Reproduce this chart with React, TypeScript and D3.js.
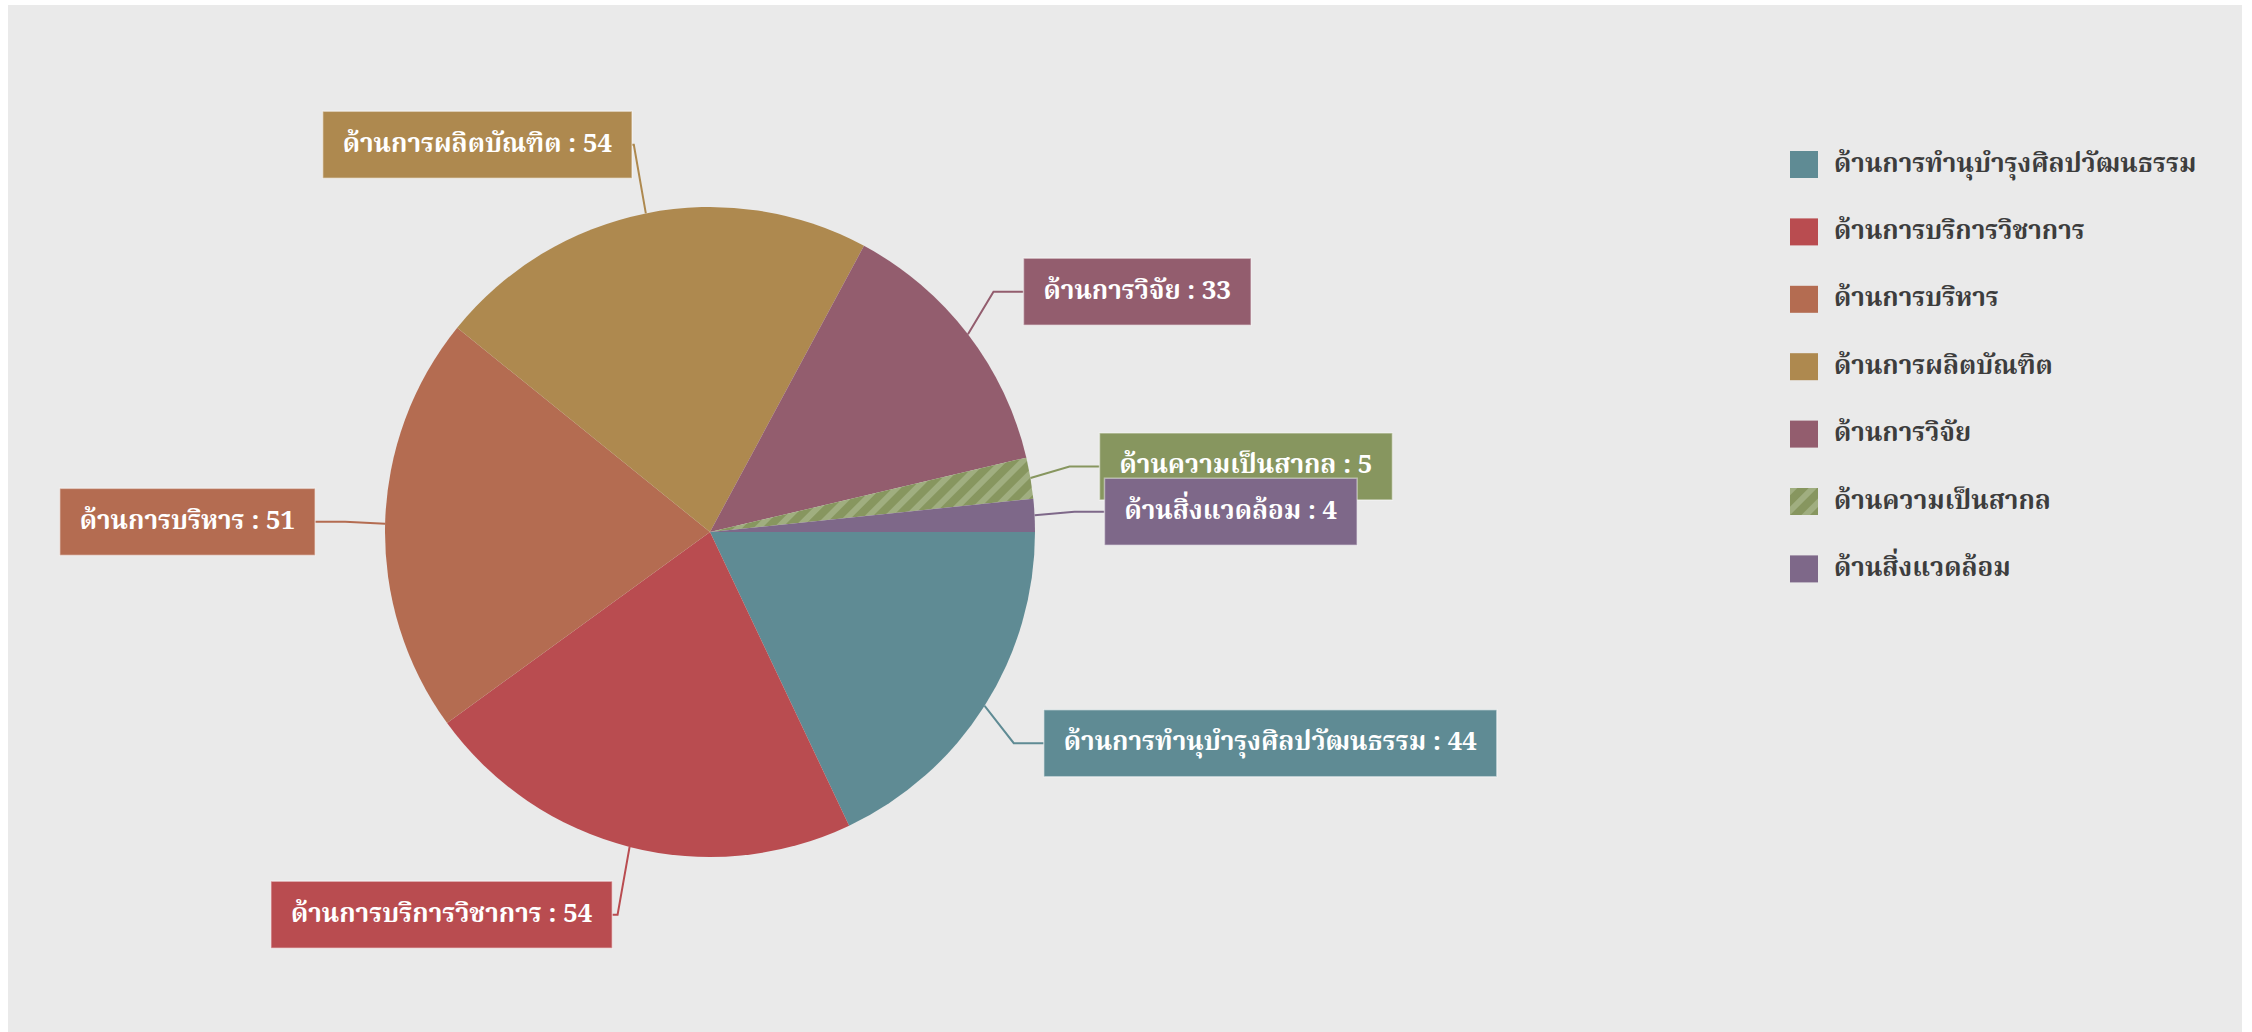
import React, { useEffect, useRef } from "react";
import * as d3 from "d3";

const categories = [
  "ด้านการทำนุบำรุงศิลปวัฒนธรรม",
  "ด้านการบริการวิชาการ",
  "ด้านการบริหาร",
  "ด้านการผลิตบัณฑิต",
  "ด้านการวิจัย",
  "ด้านความเป็นสากล",
  "ด้านสิ่งแวดล้อม",
];
const values = [44, 54, 51, 54, 33, 5, 4];
const colors = ["#5f8b94", "#b94c50", "#b46c51", "#ae894f", "#935d6e", "#87965f", "#7e6889"];
const hatched = [false, false, false, false, false, true, false];

const W = 2252;
const H = 1032;
const CX = 710;
const CY = 532;
const R = 325;
const LABEL_R = 395;
const FONT = "'Norasi', 'Noto Serif Thai', 'Liberation Serif', 'DejaVu Serif', serif";
const FS = 26;

export default function App() {
  const ref = useRef<SVGSVGElement>(null);

  useEffect(() => {
    const svg = d3.select(ref.current);
    svg.selectAll("*").remove();

    const defs = svg.append("defs");
    const pat = defs
      .append("pattern")
      .attr("id", "hatch")
      .attr("patternUnits", "userSpaceOnUse")
      .attr("width", 14)
      .attr("height", 14)
      .attr("patternTransform", "rotate(45)");
    pat.append("rect").attr("width", 14).attr("height", 14).attr("fill", "#87965f");
    pat.append("rect").attr("x", 0).attr("width", 6).attr("height", 14).attr("fill", "#a0ae80");

    svg.append("rect").attr("x", 8).attr("y", 5).attr("width", 2234).attr("height", H - 5).attr("fill", "#eaeaea");

    const data = categories.map((c, i) => ({ name: c, value: values[i], color: colors[i], hatch: hatched[i] }));
    const pie = d3
      .pie<any>()
      .sort(null)
      .value((d: any) => d.value)
      .startAngle(Math.PI / 2)
      .endAngle(Math.PI / 2 + 2 * Math.PI);
    const arcs = pie(data);
    const arc = d3.arc<any>().innerRadius(0).outerRadius(R);

    const g = svg.append("g").attr("transform", `translate(${CX},${CY})`);
    g.selectAll("path.slice")
      .data(arcs)
      .enter()
      .append("path")
      .attr("class", "slice")
      .attr("d", arc as any)
      .attr("fill", (d: any) => (d.data.hatch ? "url(#hatch)" : d.data.color));

    // connectors
    const labelsG = svg.append("g");
    arcs.forEach((a: any) => {
      const mid = (a.startAngle + a.endAngle) / 2;
      const sx = CX + R * Math.sin(mid);
      const sy = CY - R * Math.cos(mid);
      const ax = CX + LABEL_R * Math.sin(mid);
      const ay = CY - LABEL_R * Math.cos(mid);
      const right = Math.sin(mid) > 0;
      const dx = Math.abs(ax - sx);
      const h = Math.min(30, Math.max(0, dx - 12));
      const ex = right ? ax - h : ax + h;
      labelsG
        .append("path")
        .attr("d", `M${sx},${sy}L${ex},${ay}L${ax},${ay}`)
        .attr("fill", "none")
        .attr("stroke", a.data.color)
        .attr("stroke-width", 2);
    });

    arcs.forEach((a: any) => {
      const mid = (a.startAngle + a.endAngle) / 2;
      const ax = CX + LABEL_R * Math.sin(mid);
      const ay = CY - LABEL_R * Math.cos(mid);
      const right = Math.sin(mid) > 0;
      const lg = labelsG.append("g");
      const rect = lg.append("rect");
      const t = lg
        .append("text")
        .text(`${a.data.name} : ${a.data.value}`)
        .attr("font-family", FONT)
        .attr("font-size", FS)
        .attr("font-weight", "bold")
        .attr("fill", "#ffffff")
        .attr("dominant-baseline", "central");
      const tw = (t.node() as SVGTextElement).getComputedTextLength();
      const padX = 20;
      const bw = tw + padX * 2;
      const bh = 67;
      const bx = right ? ax : ax - bw;
      const by = ay - bh / 2;
      rect
        .attr("x", bx)
        .attr("y", by)
        .attr("width", bw)
        .attr("height", bh)
        .attr("fill", a.data.color)
        .attr("stroke", "rgba(255,255,255,0.45)")
        .attr("stroke-width", 1.5);
      t.attr("x", bx + padX).attr("y", ay);
    });

    // legend
    const leg = svg.append("g");
    data.forEach((d, i) => {
      const y = 151 + i * 67.4;
      leg
        .append("rect")
        .attr("x", 1790)
        .attr("y", y)
        .attr("width", 28)
        .attr("height", 27)
        .attr("fill", d.hatch ? "url(#hatch)" : d.color);
      leg
        .append("text")
        .attr("x", 1834)
        .attr("y", y + 13.5)
        .attr("dominant-baseline", "central")
        .attr("font-family", FONT)
        .attr("font-size", FS)
        .attr("font-weight", "bold")
        .attr("fill", "#3d3d3d")
        .text(d.name);
    });
  }, []);

  return (
    <svg
      ref={ref}
      width={W}
      height={H}
      style={{ position: "absolute", left: 0, top: 0, display: "block", background: "#ffffff" }}
    />
  );
}
